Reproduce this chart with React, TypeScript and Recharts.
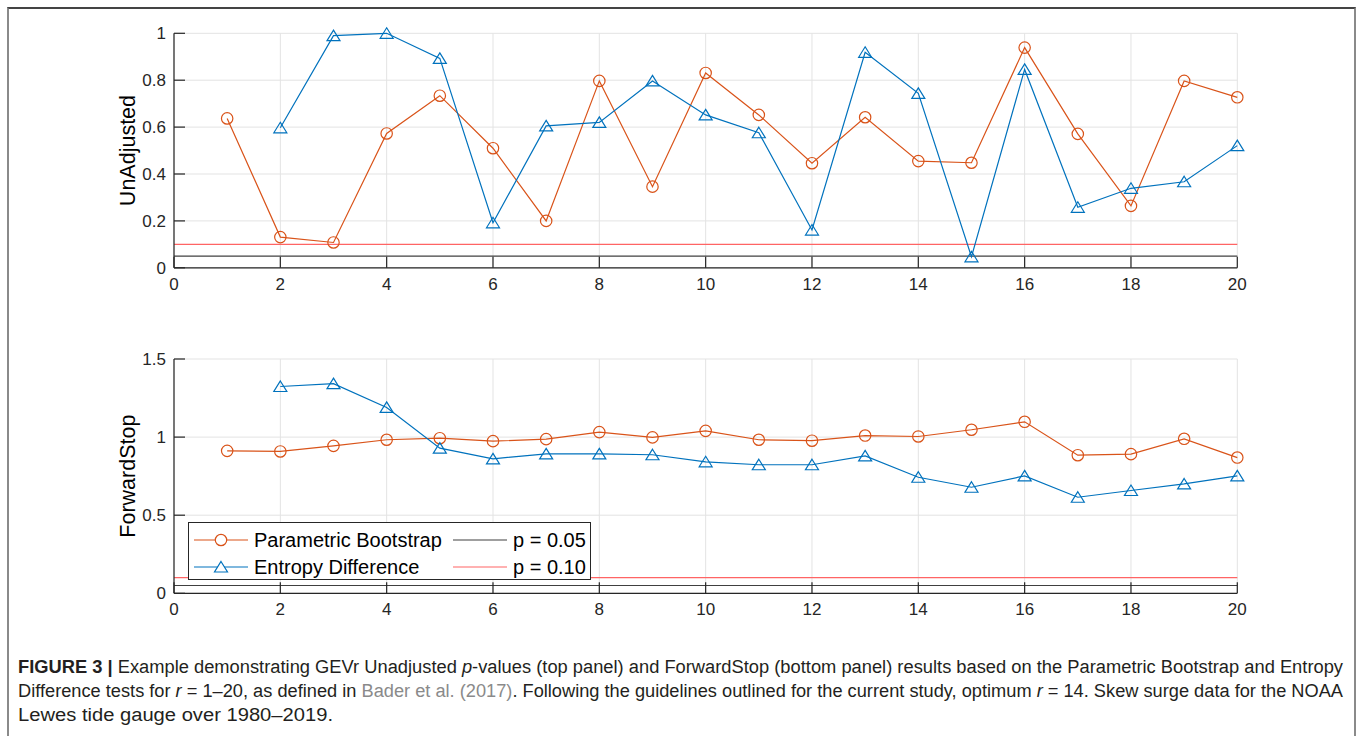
import React from 'react';
import { LineChart, Line, XAxis, YAxis, CartesianGrid, ReferenceLine } from 'recharts';

const R_VALUES = [1, 2, 3, 4, 5, 6, 7, 8, 9, 10, 11, 12, 13, 14, 15, 16, 17, 18, 19, 20];
const PB_UNADJ = [0.637, 0.131, 0.108, 0.573, 0.734, 0.51, 0.2, 0.797, 0.346, 0.831, 0.652, 0.446, 0.642, 0.455, 0.448, 0.939, 0.571, 0.264, 0.797, 0.727];
const ED_UNADJ = [null, 0.597, 0.99, 1.0, 0.893, 0.192, 0.605, 0.62, 0.797, 0.652, 0.576, 0.161, 0.919, 0.744, 0.047, 0.846, 0.258, 0.339, 0.367, 0.521];
const PB_FWD = [0.912, 0.908, 0.944, 0.983, 0.993, 0.974, 0.987, 1.032, 0.998, 1.04, 0.983, 0.977, 1.01, 1.004, 1.047, 1.098, 0.884, 0.891, 0.989, 0.869];
const ED_FWD = [null, 1.324, 1.342, 1.19, 0.929, 0.861, 0.893, 0.893, 0.887, 0.842, 0.823, 0.823, 0.88, 0.743, 0.679, 0.752, 0.615, 0.658, 0.7, 0.752];

const X_TICKS = [0, 2, 4, 6, 8, 10, 12, 14, 16, 18, 20];
const TOP_Y_TICKS = [0, 0.2, 0.4, 0.6, 0.8, 1];
const BOTTOM_Y_TICKS = [0, 0.5, 1, 1.5];
const P_05 = 0.05;
const P_10 = 0.1;

const topData = R_VALUES.map((r, i) => ({ r, pb: PB_UNADJ[i], ed: ED_UNADJ[i] }));
const bottomData = R_VALUES.map((r, i) => ({ r, pb: PB_FWD[i], ed: ED_FWD[i] }));

const ORANGE = '#D95319';
const BLUE = '#0072BD';
const RED = '#ff6464';
const DARK = '#404040';
const AXIS = '#262626';
const FONT = '"Liberation Sans", Arial, Helvetica, sans-serif';

const CircleDot = (props: any) => {
  const { cx, cy, index } = props;
  if (cx == null || cy == null) return <g key={`c${index}`} />;
  return <circle key={`c${index}`} cx={cx} cy={cy} r={5.7} fill="none" stroke={ORANGE} strokeWidth={1.2} />;
};

const TriangleDot = (props: any) => {
  const { cx, cy, index } = props;
  if (cx == null || cy == null) return <g key={`t${index}`} />;
  const pts = `${cx},${cy - 5.5} ${cx + 6.5},${cy + 5} ${cx - 6.5},${cy + 5}`;
  return <polygon key={`t${index}`} points={pts} fill="none" stroke={BLUE} strokeWidth={1.2} />;
};

const tickStyle = { fill: AXIS, fontSize: 17, fontFamily: FONT };

function Panel({ data, yTicks, yMax, label, top, marginTop, marginBottom }: any) {
  return (
    <div style={{ position: 'absolute', left: 0, top }}>
      <LineChart
        width={1358}
        height={320}
        data={data}
        margin={{ top: marginTop, right: 120.7, left: 80, bottom: marginBottom }}
      >
        <CartesianGrid stroke="#e3e3e3" strokeWidth={1} />
        <XAxis
          dataKey="r"
          type="number"
          domain={[0, 20]}
          ticks={X_TICKS}
          height={40}
          stroke={AXIS}
          strokeWidth={1.2}
          tickSize={-11}
          tickMargin={21}
          tick={tickStyle}
          interval={0}
        />
        <YAxis
          type="number"
          domain={[0, yMax]}
          ticks={yTicks}
          width={94}
          stroke={AXIS}
          strokeWidth={1.2}
          tickSize={-11}
          tickMargin={19}
          tick={tickStyle}
          interval={0}
          label={{ value: label, angle: -90, position: 'center', fill: '#000', fontSize: 21.5, fontFamily: FONT }}
        />
        <ReferenceLine y={P_05} stroke={DARK} strokeWidth={1.2} />
        <ReferenceLine y={P_10} stroke={RED} strokeWidth={1.2} />
        <Line type="linear" dataKey="pb" stroke={ORANGE} strokeWidth={1.2} dot={CircleDot} activeDot={false} isAnimationActive={false} />
        <Line type="linear" dataKey="ed" stroke={BLUE} strokeWidth={1.2} dot={TriangleDot} activeDot={false} isAnimationActive={false} />
      </LineChart>
    </div>
  );
}

function LegendBox() {
  return (
    <div
      style={{
        position: 'absolute',
        left: 188,
        top: 522,
        width: 403,
        height: 58,
        boxSizing: 'border-box',
        border: `1px solid ${AXIS}`,
        background: '#fff',
      }}
    >
      <svg width={401} height={56} style={{ position: 'absolute', left: 0, top: 0 }}>
        <g fontFamily={FONT} fontSize={20} fill="#000">
          <line x1={5} x2={59} y1={17} y2={17} stroke={ORANGE} strokeWidth={1.2} />
          <circle cx={32} cy={17} r={5.7} fill="#fff" stroke={ORANGE} strokeWidth={1.2} />
          <text x={65} y={17} dominantBaseline="central">Parametric Bootstrap</text>
          <line x1={5} x2={59} y1={44} y2={44} stroke={BLUE} strokeWidth={1.2} />
          <polygon points="32,38.5 38.5,49 25.5,49" fill="#fff" stroke={BLUE} strokeWidth={1.2} />
          <text x={65} y={44} dominantBaseline="central">Entropy Difference</text>
          <line x1={264} x2={318} y1={17} y2={17} stroke={DARK} strokeWidth={1.2} />
          <text x={324} y={17} dominantBaseline="central">p = 0.05</text>
          <line x1={264} x2={318} y1={44} y2={44} stroke={RED} strokeWidth={1.2} />
          <text x={324} y={44} dominantBaseline="central">p = 0.10</text>
        </g>
      </svg>
    </div>
  );
}

function Caption() {
  const capFont = '"Liberation Sans Narrow", "Liberation Sans", Arial, sans-serif';
  return (
    <svg width={1358} height={96} style={{ position: 'absolute', left: 0, top: 640 }}>
      <g fontFamily={capFont} fontSize={18} fill="#231f20">
        <text x={18} y={33} textLength={1325} lengthAdjust="spacingAndGlyphs">
          <tspan fontWeight="bold">FIGURE 3 |</tspan> Example demonstrating GEVr Unadjusted <tspan fontStyle="italic">p</tspan>-values (top panel) and ForwardStop (bottom panel) results based on the Parametric Bootstrap and Entropy
        </text>
        <text x={18} y={57} textLength={1325} lengthAdjust="spacingAndGlyphs">
          Difference tests for <tspan fontStyle="italic">r</tspan> = 1–20, as defined in <tspan fill="#8a8a8a">Bader et al. (2017)</tspan>. Following the guidelines outlined for the current study, optimum <tspan fontStyle="italic">r</tspan> = 14. Skew surge data for the NOAA
        </text>
        <text x={18} y={81} textLength={315} lengthAdjust="spacingAndGlyphs">
          Lewes tide gauge over 1980–2019.
        </text>
      </g>
    </svg>
  );
}

export default function App() {
  return (
    <div style={{ position: 'absolute', left: 0, top: 0, width: 1358, height: 736, overflow: 'hidden', background: '#fff' }}>
      <div
        style={{
          position: 'absolute',
          left: 7,
          top: 7,
          width: 1349,
          height: 760,
          boxSizing: 'border-box',
          borderTop: '2px solid #444',
          borderLeft: '2px solid #8a8a8a',
          borderRight: '2px solid #8a8a8a',
        }}
      />
      <Panel data={topData} yTicks={TOP_Y_TICKS} yMax={1} label="UnAdjusted" top={0} marginTop={33.3} marginBottom={12.2} />
      <Panel data={bottomData} yTicks={BOTTOM_Y_TICKS} yMax={1.5} label="ForwardStop" top={320} marginTop={39} marginBottom={6.7} />
      <LegendBox />
      <Caption />
    </div>
  );
}
